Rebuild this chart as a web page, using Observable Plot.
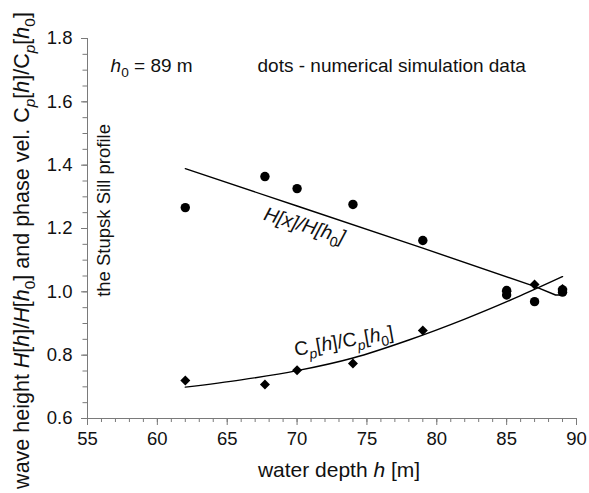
<!DOCTYPE html>
<html><head><meta charset="utf-8">
<script src="https://cdn.jsdelivr.net/npm/d3@7"></script>
<script src="https://cdn.jsdelivr.net/npm/@observablehq/plot@0.6"></script>
<style>body{margin:0;background:#fff}</style>
</head><body><div id="chart"></div>
<script>
// numerical simulation data: wave height ratio (dots)
const depthDots = [62, 67.7, 70, 74, 79, 85, 85, 87, 89, 89];
const heightDots = [1.266, 1.364, 1.326, 1.276, 1.162, 0.990, 1.004, 0.969, 0.999, 1.006];
// numerical simulation data: phase velocity ratio (diamonds)
const depthDiamonds = [62, 67.7, 70, 74, 79, 85, 87, 89];
const velDiamonds = [0.720, 0.707, 0.752, 0.774, 0.878, 1.001, 1.023, 1.009];
// theoretical curves
const depthHLine = [62, 70, 79, 87, 88.5, 89];
const heightLine = [1.389, 1.271, 1.138, 1.017, 0.990, 0.990];
const depthCpLine = [62, 66, 70, 74, 78, 82, 86, 89];
const velLine = [0.699, 0.722, 0.751, 0.791, 0.848, 0.914, 0.988, 1.048];
// ticks
const xTicks = [55, 60, 65, 70, 75, 80, 85, 90];
const yTicks = [0.6, 0.8, 1.0, 1.2, 1.4, 1.6, 1.8];
const xMinor = d3.range(55, 90.5, 1);
const yMinor = d3.range(0.6, 1.801, 0.05);

// rich text labels (part, style)
const labels = {
  "§Y": [["wave height "],["H","i"],["["],["h","i"],["]/"],["H","i"],["["],["h","i"],["0","sub"],["] and phase vel. "],["C"],["p","isub"],["["],["h","i"],["]/"],["C"],["p","isub"],["["],["h","i"],["0","sub"],["]"]],
  "§X": [["water depth "],["h","i"],[" [m]"]],
  "§H0": [["h","i"],["0","sub"],[" = 89 m"]],
  "§HL": [["H[x]/H[h","i"],["0","sub"],["]","i"]],
  "§CL": [["C"],["p","isub"],["["],["h","i"],["]/"],["C"],["p","isub"],["["],["h","i"],["0","sub"],["]"]]
};
const dotsNote = "dots - numerical simulation data";
const sillNote = "the Stupsk Sill profile";

const gray = "#7a7a7a";
const ink = "#111";

const dots = depthDots.map((x, i) => ({x, y: heightDots[i]}));
const diamonds = depthDiamonds.map((x, i) => ({x, y: velDiamonds[i]}));
const hLine = depthHLine.map((x, i) => ({x, y: heightLine[i]}));
const cpLine = depthCpLine.map((x, i) => ({x, y: velLine[i]}));

const chart = Plot.plot({
  width: 589, height: 493,
  marginLeft: 87, marginRight: 13, marginTop: 38, marginBottom: 75,
  style: {fontFamily: "'Liberation Sans', Arial, sans-serif", fontSize: "18.5px", color: ink, background: "#fff"},
  x: {domain: [55, 90]},
  y: {domain: [0.6, 1.8]},
  marks: [
    Plot.axisX(xMinor, {tickSize: 4, tickFormat: () => "", stroke: gray, label: null}),
    Plot.axisX(xTicks, {tickSize: 7, tickPadding: 6, stroke: gray, fill: ink, fontSize: 18.5, label: null, tickFormat: d => String(d)}),
    Plot.axisY(yMinor, {tickSize: 4.5, tickFormat: () => "", stroke: gray, label: null}),
    Plot.axisY(yTicks, {tickSize: 6, tickPadding: 9, stroke: gray, fill: ink, fontSize: 18.5, label: null, tickFormat: d3.format(".1f")}),
    Plot.ruleX([55], {stroke: gray}),
    Plot.ruleY([0.6], {stroke: gray}),
    Plot.line(hLine, {x: "x", y: "y", stroke: "#000", strokeWidth: 1.4}),
    Plot.line(cpLine, {x: "x", y: "y", stroke: "#000", strokeWidth: 1.4, curve: "monotone-x"}),
    Plot.dot(dots, {x: "x", y: "y", r: 4.7, fill: "#000", stroke: null}),
    Plot.dot(diamonds, {x: "x", y: "y", r: 4.5, symbol: "diamond2", fill: "#000", stroke: null}),
    Plot.text(["§H0"], {x: 56.65, y: 1.714, textAnchor: "start", fontSize: 19, fill: ink}),
    Plot.text([dotsNote], {x: 67.17, y: 1.714, textAnchor: "start", fontSize: 19, fill: ink}),
    Plot.text([sillNote], {x: 56.22, y: 1.257, rotate: -90, textAnchor: "middle", fontSize: 18.5, fill: ink}),
    Plot.text(["§HL"], {x: 70.53, y: 1.209, rotate: 17, textAnchor: "middle", fontSize: 19.5, fill: ink}),
    Plot.text(["§CL"], {x: 73.35, y: 0.844, rotate: -10, textAnchor: "middle", fontSize: 19.5, fill: ink}),
    Plot.text(["§Y"], {frameAnchor: "left", dx: -65.4, dy: 22, rotate: -90, textAnchor: "middle", lineAnchor: "middle", fontSize: 21.5, fill: ink}),
    Plot.text(["§X"], {frameAnchor: "bottom", dx: 7, dy: 52, textAnchor: "middle", lineAnchor: "middle", fontSize: 21, fill: ink})
  ]
});

function setRich(el, parts) {
  const fs = parseFloat(getComputedStyle(el).fontSize) || 19;
  const sel = d3.select(el);
  sel.text(null);
  let shifted = 0;
  for (const [s, st = ""] of parts) {
    const t = sel.append("tspan").text(s);
    if (st.includes("i")) t.attr("font-style", "italic");
    const sub = st.includes("sub");
    const target = sub ? 0.28 * fs : 0;
    if (target !== shifted) { t.attr("dy", target - shifted); shifted = target; }
    if (sub) t.attr("font-size", 0.72 * fs);
  }
}

document.getElementById("chart").append(chart);
chart.querySelectorAll("text").forEach(el => {
  const key = el.textContent;
  if (labels[key]) setRich(el, labels[key]);
});
</script>
</body></html>
